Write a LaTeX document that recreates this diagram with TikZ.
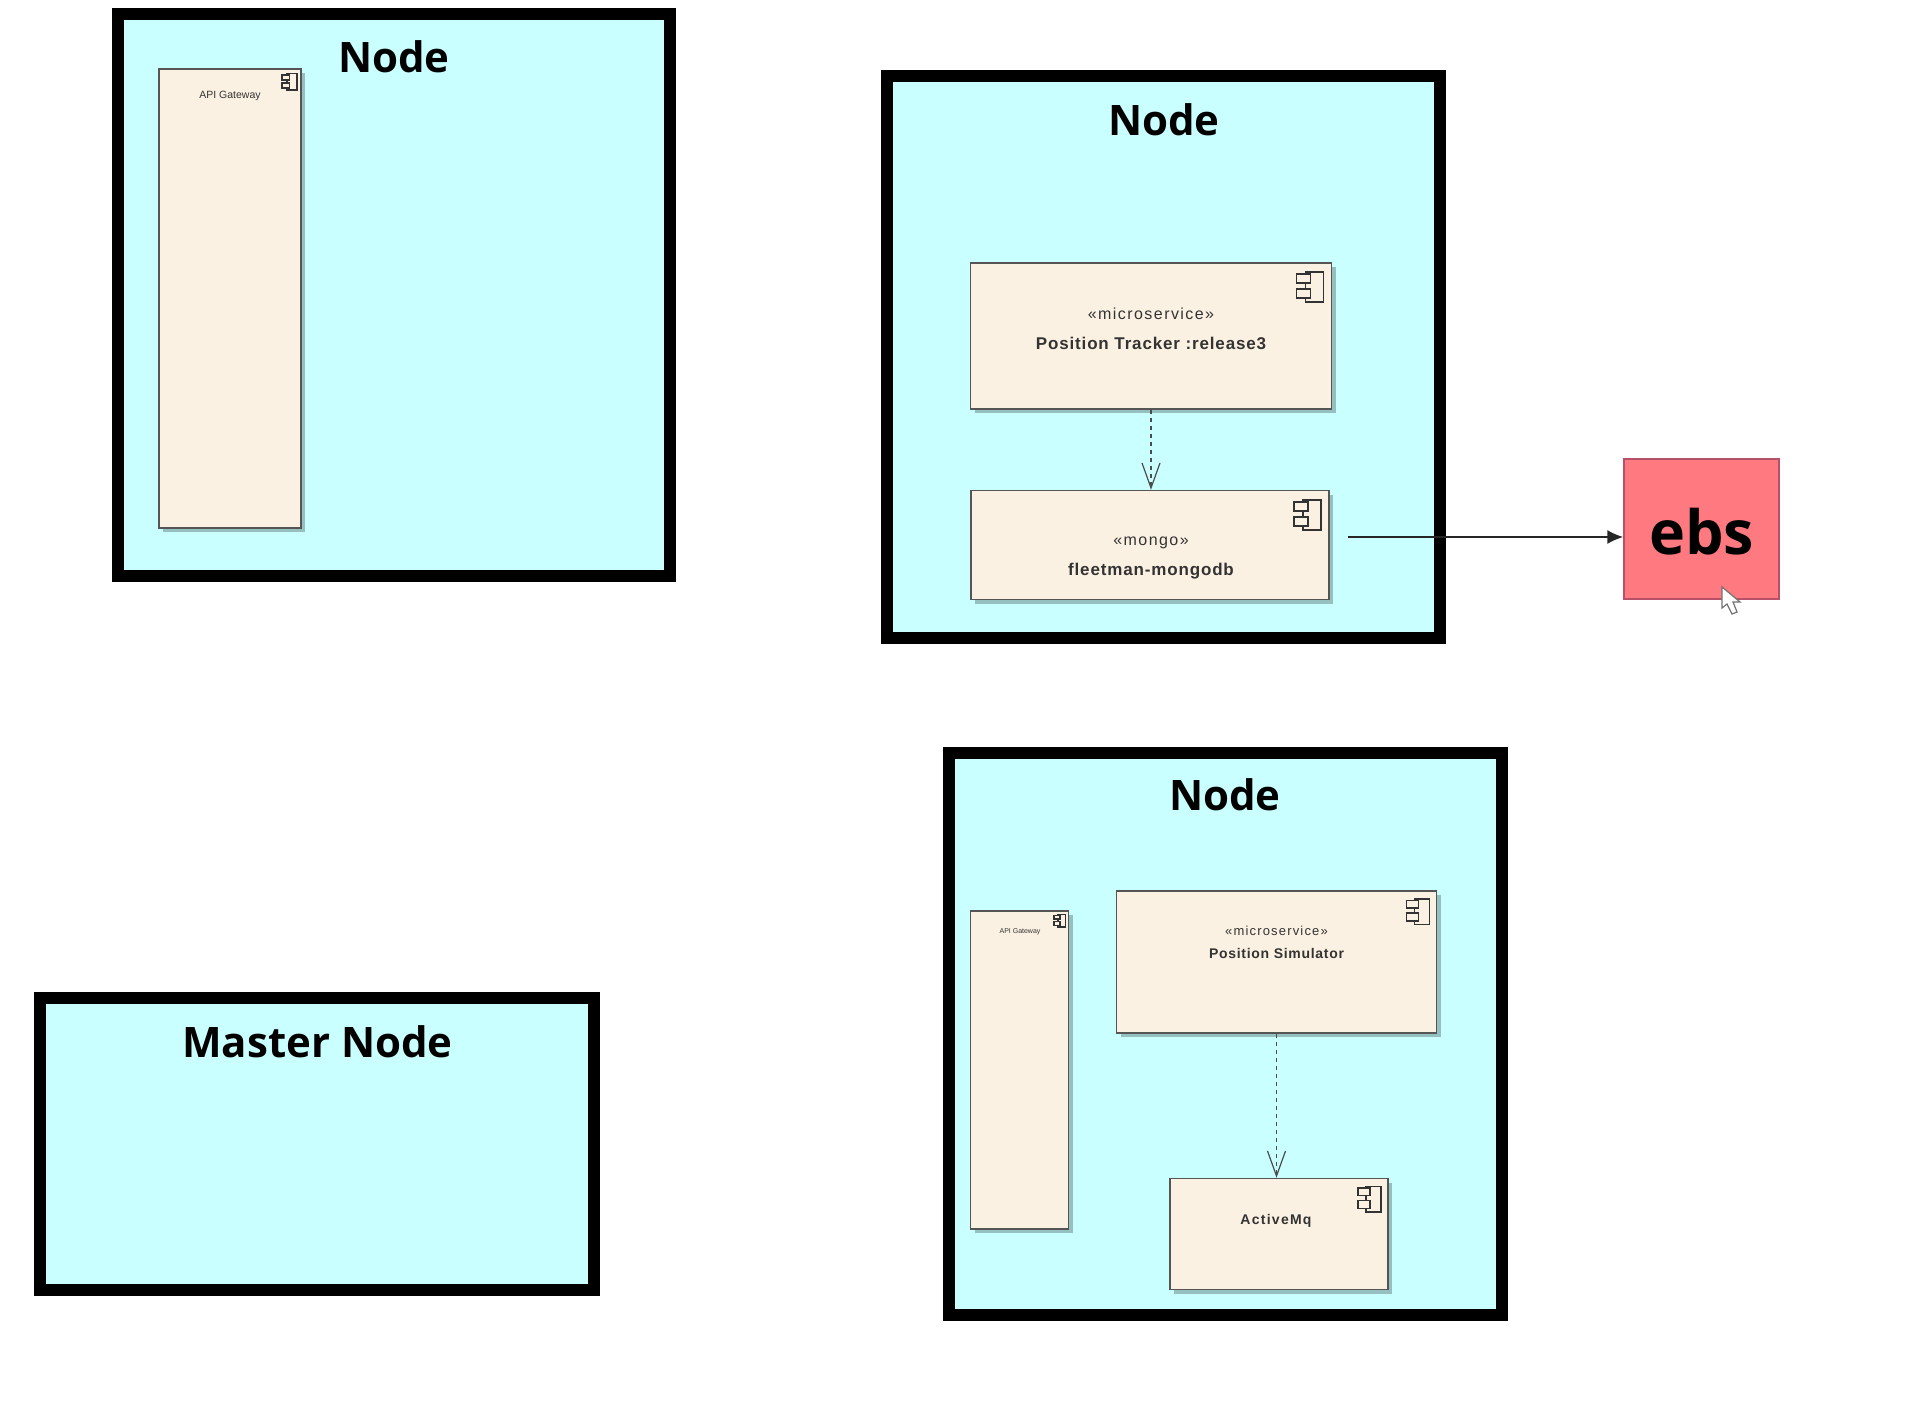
\documentclass[tikz,border=0pt]{standalone}
\usepackage{fontspec}
\usepackage{tikz}
\usetikzlibrary{shadows,arrows.meta}
\setmainfont{Liberation Sans}
\newfontfamily\titlefont{Open Sans}
\newfontfamily\spacedfont[LetterSpace=5]{Liberation Sans}
\newfontfamily\widefont[LetterSpace=9]{Liberation Sans}

\definecolor{nodecyan}{HTML}{C9FFFF}
\definecolor{compbeige}{HTML}{FBF1E2}
\definecolor{compline}{HTML}{555555}
\definecolor{ebsred}{HTML}{FF7A80}
\definecolor{ebsline}{HTML}{B8506A}
\definecolor{textgray}{HTML}{333333}

\tikzset{
  hostbox/.style={draw=black, line width=12pt, fill=nodecyan, inner sep=0pt},
  compbox/.style={draw=compline, line width=1.5pt, fill=compbeige, inner sep=0pt,
    drop shadow={shadow xshift=4pt, shadow yshift=-4pt, fill=black, opacity=0.25}},
  hosttitle/.style={font=\titlefont\bfseries\fontsize{42}{46}\selectfont, text=black, inner sep=0pt},
  stereolabel/.style={font=\widefont\fontsize{16}{18}\selectfont, text=textgray, inner sep=0pt},
  namelabel/.style={font=\spacedfont\bfseries\fontsize{17}{19}\selectfont, text=textgray, inner sep=0pt},
  depline/.style={draw=black!70, line width=1.2pt, dash pattern=on 4pt off 4pt},
  openhead/.style={-{Straight Barb[length=25pt,width=18pt,line width=1.2pt]}},
}

% component icon, top right of a box: #1 box, #2 scale
\newcommand{\compicon}[2]{
  \begin{scope}[shift={(#1.north east)}, scale=#2, draw=textgray, line width=1.5pt]
    \draw[fill=compbeige] (-27,10) rectangle (-9,40);
    \draw[fill=compbeige] (-36,12) rectangle (-22,21);
    \draw[fill=compbeige] (-36,27) rectangle (-22,36);
  \end{scope}
}

\begin{document}
\begin{tikzpicture}[x=1pt, y=-1pt]
\useasboundingbox (0,0) rectangle (1910,1412);

% ======================
% Top left node
% ======================
\node[hostbox, minimum width=552pt, minimum height=562pt] (nodea) at (394,295) {};
\node[hosttitle] (nodeatitle) at (394,57) {Node};
\node[compbox, minimum width=142pt, minimum height=459pt] (gatewaya) at (230,298.5) {};
\node[font=\fontsize{10.5}{12}\selectfont, text=textgray, inner sep=0pt] (gatewayalabel) at (230,96) {API Gateway};
\compicon{gatewaya}{0.55}

% ======================
% Top right node
% ======================
\node[hostbox, minimum width=553pt, minimum height=562pt] (nodeb) at (1163.5,357) {};
\node[hosttitle] (nodebtitle) at (1164,120) {Node};
\node[compbox, minimum width=361pt, minimum height=146pt] (tracker) at (1151,336) {};
\node[stereolabel] (trackerstereo) at (1151,314) {«microservice»};
\node[namelabel] (trackername) at (1151,343) {Position Tracker :release3};
\compicon{tracker}{1}
\node[compbox, minimum width=358pt, minimum height=109pt] (mongo) at (1150,545) {};
\node[stereolabel] (mongostereo) at (1151,543) {«mongo»};
\node[namelabel] (mongoname) at (1151,571) {fleetman-mongodb};
\compicon{mongo}{1}

\draw[depline, openhead] (tracker) -- (tracker |- mongo.north);

% ======================
% ebs
% ======================
\node[draw=ebsline, line width=1.5pt, fill=ebsred, minimum width=155pt, minimum height=140pt, inner sep=0pt] (ebs) at (1701.5,529) {};
\node[font=\titlefont\bfseries\fontsize{61}{66}\selectfont, text=black, inner sep=0pt] (ebslabel) at (1701.5,532) {ebs};
\coordinate (mongoout) at (1348,537);
\draw[line width=1.6pt, draw=black!85, -{Latex[length=16pt,width=14pt]}] (mongoout) -- (mongoout -| ebs.west);

% mouse pointer
\draw[draw=black!55, fill=white, line width=1.2pt] (1722,587) -- (1722,608) -- (1727,604) -- (1732,614) -- (1737,612) -- (1733,602) -- (1740,602) -- cycle;

% ======================
% Bottom node
% ======================
\node[hostbox, minimum width=553pt, minimum height=562pt] (nodec) at (1225,1034) {};
\node[hosttitle] (nodectitle) at (1225,795) {Node};
\node[compbox, minimum width=98pt, minimum height=318pt] (gatewayc) at (1019.5,1070) {};
\node[font=\fontsize{7}{8}\selectfont, text=textgray, inner sep=0pt] (gatewayclabel) at (1020,932) {API Gateway};
\compicon{gatewayc}{0.42}
\node[compbox, minimum width=320pt, minimum height=142pt] (simulator) at (1276.5,962) {};
\node[font=\widefont\fontsize{13}{15}\selectfont, text=textgray, inner sep=0pt] (simstereo) at (1276.5,931) {«microservice»};
\node[font=\spacedfont\bfseries\fontsize{14}{16}\selectfont, text=textgray, inner sep=0pt] (simname) at (1276.5,953) {Position Simulator};
\compicon{simulator}{0.85}
\node[compbox, minimum width=218pt, minimum height=111pt] (activemq) at (1279,1234) {};
\node[font=\widefont\bfseries\fontsize{14}{16}\selectfont, text=textgray, inner sep=0pt] (activemqname) at (1276,1221) {ActiveMq};
\compicon{activemq}{0.85}

\draw[depline, openhead] (simulator) -- (simulator |- activemq.north);

% ======================
% Master node
% ======================
\node[hostbox, minimum width=554pt, minimum height=292pt] (master) at (316.5,1144) {};
\node[hosttitle] (mastertitle) at (317.5,1042) {Master Node};

\end{tikzpicture}
\end{document}
